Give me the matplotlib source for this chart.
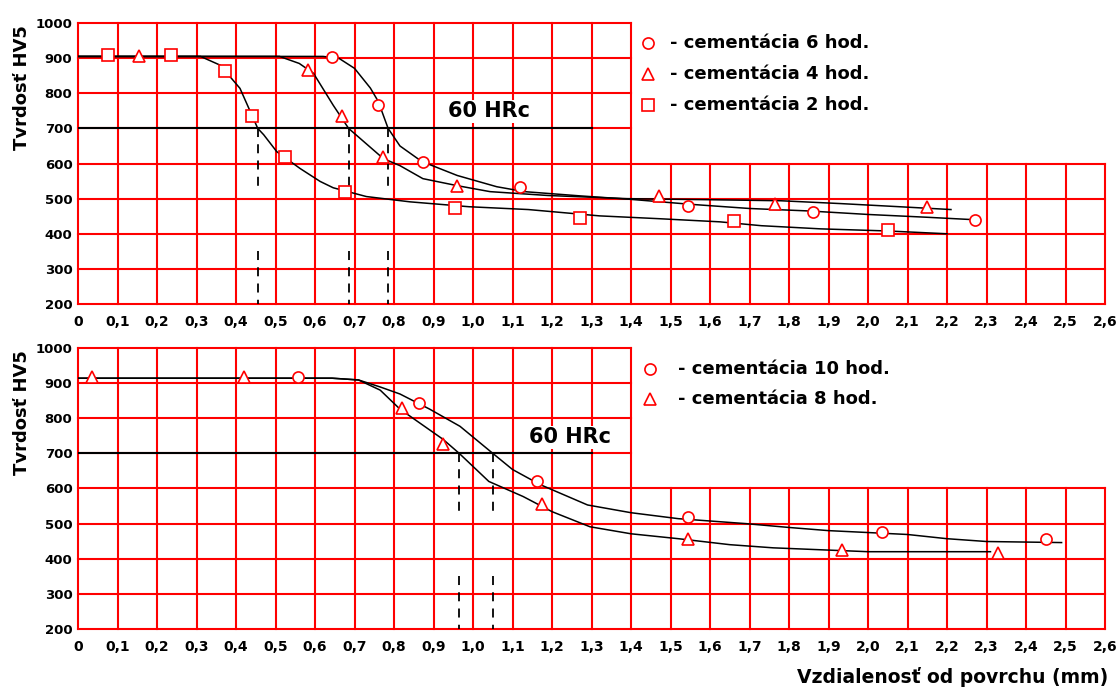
import numpy as np
import matplotlib.pyplot as plt

plt.rcParams['font.family'] = ['DejaVu Sans']
plt.rcParams['font.weight'] = 'bold'

# x axis: distance from surface (mm), y axis: hardness HV5
x_ticks = [i / 10 for i in range(27)]
x_labels = ['0'] + [f'{t:.1f}'.replace('.', ',') for t in x_ticks[1:]]
y_ticks = [200, 300, 400, 500, 600, 700, 800, 900, 1000]
hrc60 = 700

# top panel - measured points
top_6h_x = [0.643, 0.76, 0.873, 1.12, 1.545, 1.86, 2.27]
top_6h_y = [903, 766, 603, 534, 480, 463, 440]
top_4h_x = [0.154, 0.583, 0.668, 0.773, 0.96, 1.47, 1.765, 2.15]
top_4h_y = [905, 866, 734, 620, 537, 508, 486, 477]
top_2h_x = [0.076, 0.235, 0.372, 0.44, 0.524, 0.676, 0.955, 1.27, 1.66, 2.05]
top_2h_y = [908, 908, 863, 734, 620, 520, 474, 446, 437, 411]

# top panel - fitted curves
curve_6h_x = [0, 0.62, 0.66, 0.70, 0.74, 0.76, 0.785, 0.815, 0.87, 0.96, 1.06, 1.13,
              1.27, 1.40, 1.55, 1.70, 1.85, 2.00, 2.15, 2.27]
curve_6h_y = [905, 905, 900, 871, 815, 777, 700, 650, 606, 566, 534, 520,
              508, 498, 484, 472, 465, 455, 447, 440]
curve_4h_x = [0, 0.51, 0.56, 0.596, 0.646, 0.685, 0.773, 0.815, 0.873, 0.96, 1.043,
              1.19, 1.39, 1.60, 1.78, 1.93, 2.08, 2.21]
curve_4h_y = [905, 905, 885, 857, 766, 700, 614, 594, 557, 537, 520,
              509, 500, 497, 494, 486, 477, 469]
curve_2h_x = [0, 0.31, 0.36, 0.41, 0.455, 0.47, 0.503, 0.562, 0.613, 0.646, 0.73, 0.84,
              0.99, 1.14, 1.32, 1.47, 1.625, 1.73, 1.88, 2.05, 2.2]
curve_2h_y = [905, 905, 880, 814, 700, 682, 634, 586, 549, 531, 506, 491,
              477, 469, 451, 443, 434, 423, 414, 408, 400]

# bottom panel - measured points
bot_10h_x = [0.557, 0.863, 1.162, 1.545, 2.035, 2.45]
bot_10h_y = [917, 843, 620, 519, 477, 457]
bot_8h_x = [0.035, 0.42, 0.82, 0.924, 1.175, 1.545, 1.934, 2.33]
bot_8h_y = [917, 917, 829, 726, 555, 457, 426, 417]

# bottom panel - fitted curves
curve_10h_x = [0, 0.643, 0.71, 0.765, 0.815, 0.89, 0.967, 1.05, 1.10, 1.17, 1.29, 1.40,
               1.52, 1.69, 1.80, 1.90, 2.01, 2.10, 2.20, 2.30, 2.49]
curve_10h_y = [914, 914, 909, 889, 869, 826, 777, 700, 654, 611, 553, 531,
               514, 500, 489, 480, 474, 469, 457, 449, 446]
curve_8h_x = [0, 0.643, 0.71, 0.765, 0.815, 0.924, 0.965, 1.04, 1.127, 1.20, 1.296,
              1.40, 1.52, 1.65, 1.76, 2.00, 2.31]
curve_8h_y = [914, 914, 909, 880, 826, 740, 700, 620, 577, 534, 491,
              471, 457, 440, 431, 420, 420]

# depth of 60 HRc for each curve (dashed drop lines)
top_depths = [0.455, 0.685, 0.785]
bot_depths = [0.965, 1.05]


def draw_grid(ax):
    red = '#ff0000'
    for x in x_ticks:
        top = 1000 if x <= 1.4 + 1e-9 else 600
        ax.plot([x, x], [200, top], color=red, lw=1.5, clip_on=False, zorder=1)
    for y in y_ticks:
        right = 2.6 if y <= 600 else 1.4
        ax.plot([0, right], [y, y], color=red, lw=1.5, clip_on=False, zorder=1)
    ax.set_xlim(0, 2.6)
    ax.set_ylim(200, 1000)
    for s in ax.spines.values():
        s.set_visible(False)
    ax.set_xticks(x_ticks)
    ax.set_xticklabels(x_labels, fontsize=10)
    ax.set_yticks(y_ticks)
    ax.set_yticklabels([str(v) for v in y_ticks], fontsize=9.5)
    ax.tick_params(length=0, pad=8)
    ax.tick_params(axis='y', pad=4)
    ax.plot([0, 1.3], [hrc60, hrc60], color='black', lw=1.5, zorder=3)
    ax.text(-0.055, 0.77, 'Tvrdosť HV5', rotation=90, transform=ax.transAxes,
            ha='center', va='center', fontsize=13)


def drop_lines(ax, depths):
    for d in depths:
        ax.plot([d, d], [hrc60, 530], color='black', lw=1.3, ls=(0, (5, 4)), zorder=3)
        ax.plot([d, d], [350, 200], color='black', lw=1.3, ls=(0, (5, 4)), zorder=3)


def points(ax, x, y, marker):
    ax.plot(x, y, ls='none', marker=marker, ms=8, mfc='white', mec='#ff0000',
            mew=1.2, zorder=4, clip_on=False)


def key(ax, x, y, marker, label, gap):
    ax.plot([x], [y], ls='none', marker=marker, ms=8, mfc='white', mec='#ff0000',
            mew=1.2, clip_on=False)
    ax.text(x + gap, y, '- ' + label, ha='left', va='center', fontsize=13)


fig = plt.figure(figsize=(11.18, 6.88), dpi=100)
ax1 = fig.add_axes([0.0698, 0.5581, 0.9186, 0.4084])
ax2 = fig.add_axes([0.0698, 0.0858, 0.9186, 0.4084])

# top panel
draw_grid(ax1)
for cx, cy in [(curve_6h_x, curve_6h_y), (curve_4h_x, curve_4h_y), (curve_2h_x, curve_2h_y)]:
    ax1.plot(cx, cy, color='black', lw=1.1, zorder=3)
drop_lines(ax1, top_depths)
points(ax1, top_6h_x, top_6h_y, 'o')
points(ax1, top_4h_x, top_4h_y, '^')
points(ax1, top_2h_x, top_2h_y, 's')
ax1.text(1.04, 749, '60 HRc', ha='center', va='center', fontsize=15, zorder=5,
         bbox=dict(facecolor='white', edgecolor='none', pad=1))
key(ax1, 1.443, 943, 'o', 'cementácia 6 hod.', 0.055)
key(ax1, 1.443, 855, '^', 'cementácia 4 hod.', 0.055)
key(ax1, 1.443, 766, 's', 'cementácia 2 hod.', 0.055)

# bottom panel
draw_grid(ax2)
for cx, cy in [(curve_10h_x, curve_10h_y), (curve_8h_x, curve_8h_y)]:
    ax2.plot(cx, cy, color='black', lw=1.1, zorder=3)
drop_lines(ax2, bot_depths)
points(ax2, bot_10h_x, bot_10h_y, 'o')
points(ax2, bot_8h_x, bot_8h_y, '^')
ax2.text(1.245, 746, '60 HRc', ha='center', va='center', fontsize=15, zorder=5,
         bbox=dict(facecolor='white', edgecolor='none', pad=1))
key(ax2, 1.448, 940, 'o', 'cementácia 10 hod.', 0.07)
key(ax2, 1.448, 854, '^', 'cementácia 8 hod.', 0.07)

fig.text(1108 / 1118, 1 - 677 / 688, 'Vzdialenosť od povrchu (mm)', ha='right',
         va='center', fontsize=13.5)

fig.savefig('out.png', dpi=100)
